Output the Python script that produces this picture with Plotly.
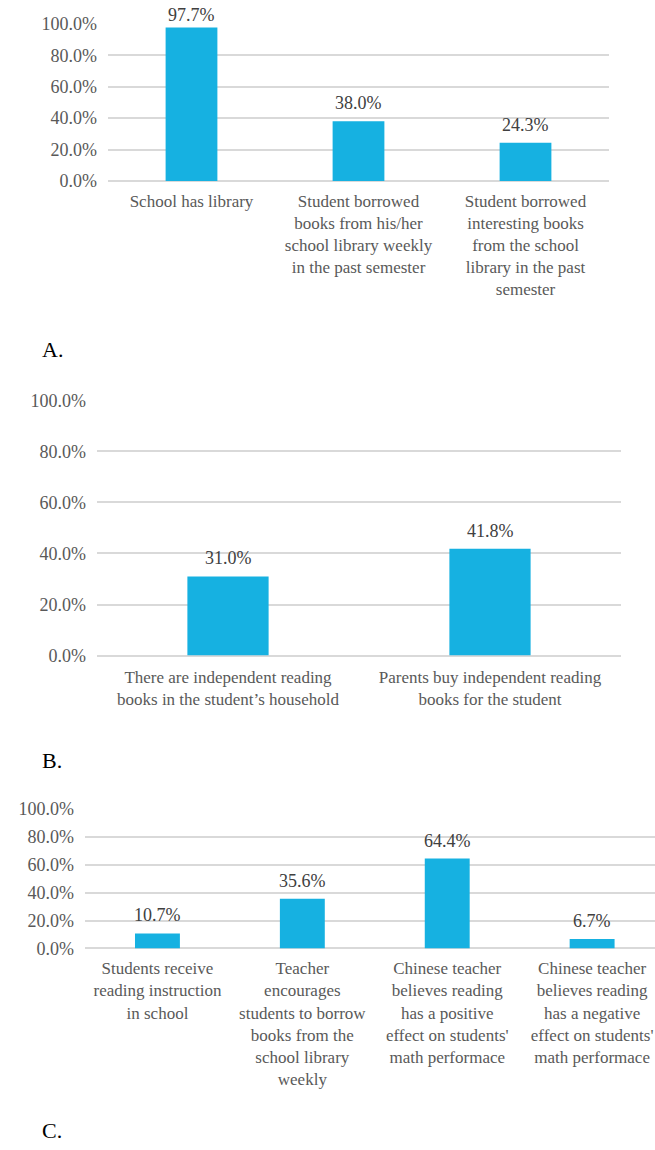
import plotly.graph_objects as go

# Panel A
cats_a = ["School has library",
          "Student borrowed<br>books from his/her<br>school library weekly<br>in the past semester",
          "Student borrowed<br>interesting books<br>from the school<br>library in the past<br>semester"]
vals_a = [0.977, 0.380, 0.243]

# Panel B
cats_b = ["There are independent reading<br>books in the student’s household",
          "Parents buy independent reading<br>books for the student"]
vals_b = [0.310, 0.418]

# Panel C
cats_c = ["Students receive<br>reading instruction<br>in school",
          "Teacher<br>encourages<br>students to borrow<br>books from the<br>school library<br>weekly",
          "Chinese teacher<br>believes reading<br>has a positive<br>effect on students'<br>math performace",
          "Chinese teacher<br>believes reading<br>has a negative<br>effect on students'<br>math performace"]
vals_c = [0.107, 0.356, 0.644, 0.067]

y_ticks = [0, 0.2, 0.4, 0.6, 0.8, 1.0]
panel_labels = ["A.", "B.", "C."]

W, H = 655, 1150
BAR = "#16b1e1"
GRID = "#d9d9d9"
TXT = "#595959"
FONT = "'Liberation Serif', 'Times New Roman', 'DejaVu Serif', serif"

fig = go.Figure()

def px_x(p):
    return p / W

def px_y(p):
    return 1 - p / H

panels = [
    (cats_a, vals_a, "x", "y", (108, 609), (14, 174), None, 8),
    (cats_b, vals_b, "x2", "y2", (97, 621), (397, 657), None, 9),
    (cats_c, vals_c, "x3", "y3", (85, 655), (813, 955), [-0.5, 3.434], 8),
]

for i, (cats, vals, xa, ya, xd, yd, xr, stand) in enumerate(panels):
    fig.add_trace(go.Bar(
        x=list(range(len(cats))), y=vals, xaxis=xa, yaxis=ya,
        marker=dict(color=BAR, line=dict(width=0)),
        width=0.31, showlegend=False, hoverinfo="skip",
    ))
    n = str(i + 1) if i else ""
    fig.layout["xaxis" + n] = dict(
        domain=[px_x(xd[0]), px_x(xd[1])],
        range=xr if xr else [-0.5, len(cats) - 0.5],
        tickmode="array", tickvals=list(range(len(cats))), ticktext=cats,
        tickangle=0, showgrid=False, zeroline=False, showline=False,
        ticks="", ticklabelstandoff=stand,
        tickfont=dict(family=FONT, size=17, color=TXT),
        anchor="y" + n, fixedrange=True,
    )
    fig.layout["yaxis" + n] = dict(
        domain=[px_y(yd[1]), px_y(yd[0])],
        range=[0, 1.0005],
        tickmode="array", tickvals=y_ticks, tickformat=".1%",
        showgrid=True, gridcolor=GRID, gridwidth=1.5,
        zeroline=True, zerolinecolor=GRID, zerolinewidth=1.5,
        showline=False, ticks="", ticklabelstandoff=10,
        tickfont=dict(family=FONT, size=18, color=TXT),
        anchor="x" + n, fixedrange=True,
    )
    # data labels placed above bars; limited by the top of the figure
    plot_h = yd[1] - yd[0]
    for j, v in enumerate(vals):
        bar_top_px = yd[1] - v * plot_h
        shift = min(18, bar_top_px - 5)
        fig.add_annotation(
            x=j, y=v, xref=xa, yref=ya, text=f"{v*100:.1f}%",
            showarrow=False, xanchor="center", yanchor="middle", yshift=shift,
            font=dict(family=FONT, size=18, color="#404040"),
        )

for lbl, (xx, yy) in zip(panel_labels, [(40, 346), (40, 764), (40, 1140)]):
    fig.add_annotation(text=lbl, x=px_x(xx), y=px_y(yy), xref="paper", yref="paper",
                       xanchor="left", yanchor="middle", showarrow=False,
                       font=dict(family=FONT, size=22, color="#000000"))

fig.update_layout(width=W, height=H, margin=dict(l=0, r=0, t=0, b=0),
                  paper_bgcolor="white", plot_bgcolor="white", bargap=0.69)

fig.write_html("out.html")
